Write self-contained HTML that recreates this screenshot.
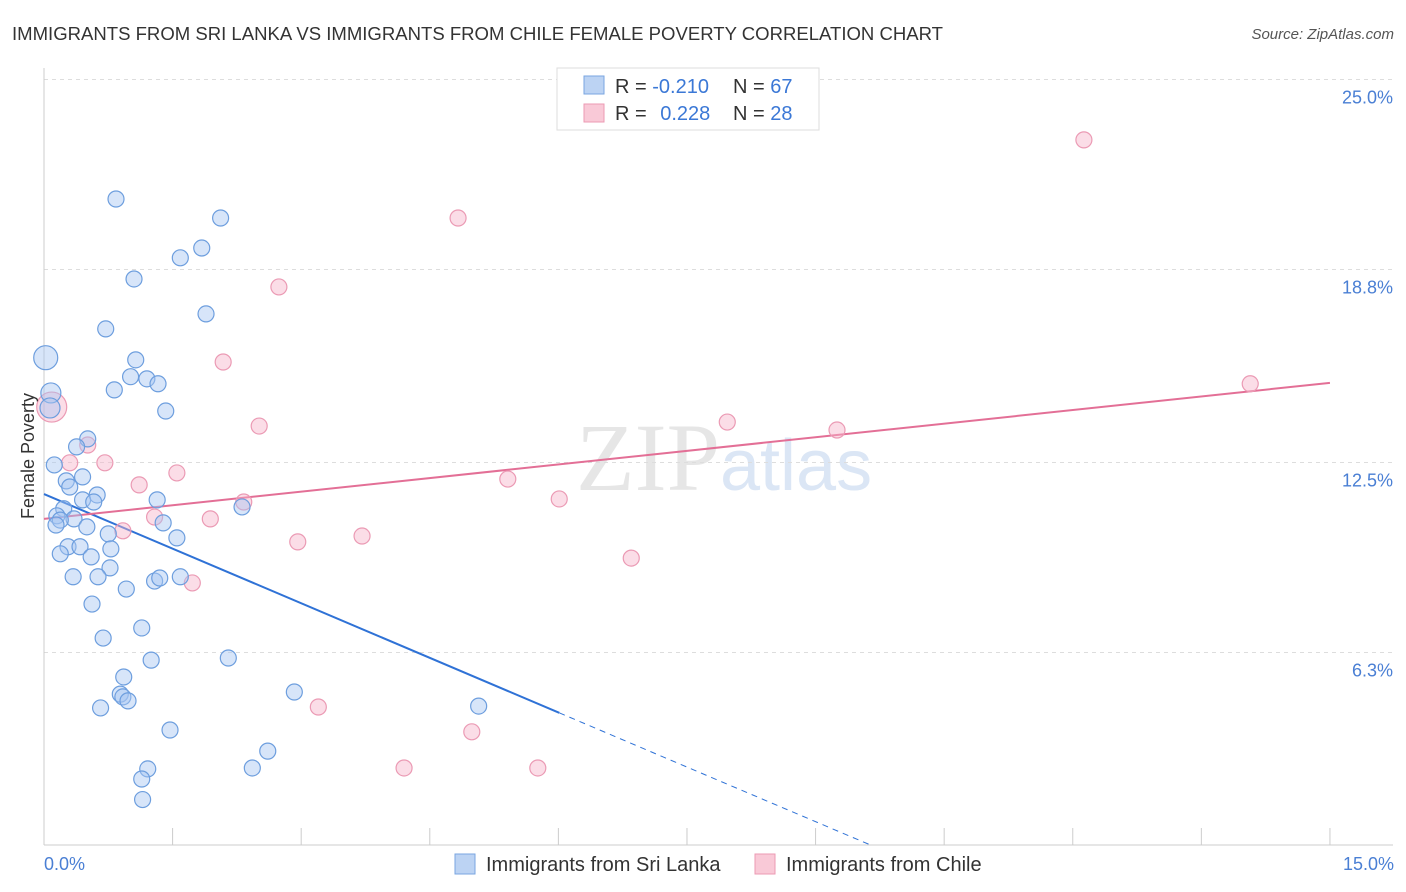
<!DOCTYPE html>
<html><head><meta charset="utf-8"><style>
body{margin:0;background:#fff;font-family:"Liberation Sans",sans-serif;}
svg{display:block}
</style></head><body>
<svg id="chart" width="1406" height="892">
<text x="12" y="40" font-size="18" fill="#333" textLength="931" lengthAdjust="spacingAndGlyphs">IMMIGRANTS FROM SRI LANKA VS IMMIGRANTS FROM CHILE FEMALE POVERTY CORRELATION CHART</text>
<text x="1394" y="39" font-size="15" fill="#555" text-anchor="end" font-style="italic">Source: ZipAtlas.com</text>
<text x="720" y="490" font-size="96" fill="#e6e6e6" text-anchor="end" font-family="Liberation Serif">ZIP</text>
<text x="720" y="490" font-size="72" fill="#dbe6f5">atlas</text>
<g id="grid"></g><g id="axes"></g><g id="lines"></g><g id="pts"></g>
<text x="34" y="456" font-size="18" fill="#333" text-anchor="middle" transform="rotate(-90 34 456)">Female Poverty</text>
<text x="44" y="870" font-size="18" fill="#4a7fd4">0.0%</text>
<text x="1394" y="870" font-size="18" fill="#4a7fd4" text-anchor="end">15.0%</text>
<g>
<rect x="557" y="68" width="262" height="62" fill="#fff" stroke="#ddd"/>
<rect x="584" y="76" width="20" height="18" fill="#bcd3f3" stroke="#7aa6e0"/>
<rect x="584" y="104" width="20" height="18" fill="#f9c9d7" stroke="#ec9ab3"/>
<text x="615" y="93" font-size="20" fill="#333">R = <tspan fill="#3b78d6">-0.210</tspan></text>
<text x="733" y="93" font-size="20" fill="#333">N = <tspan fill="#3b78d6">67</tspan></text>
<text x="615" y="120" font-size="20" fill="#333">R = <tspan fill="#3b78d6" dx="8">0.228</tspan></text>
<text x="733" y="120" font-size="20" fill="#333">N = <tspan fill="#3b78d6">28</tspan></text>
</g>
<g>
<rect x="455" y="854" width="20" height="20" fill="#bcd3f3" stroke="#7aa6e0"/>
<text x="486" y="871" font-size="20" fill="#333">Immigrants from Sri Lanka</text>
<rect x="755" y="854" width="20" height="20" fill="#f9c9d7" stroke="#ec9ab3"/>
<text x="786" y="871" font-size="20" fill="#333">Immigrants from Chile</text>
</g>
</svg>
<script>
const yTicks=[25,18.8,12.5,6.3];
const yTickLabels=["25.0%","18.8%","12.5%","6.3%"];
const xTicks=[0,1.5,3,4.5,6,7.5,9,10.5,12,13.5,15];
const blueX=[0.84,2.06,1.84,1.59,1.05,1.89,0.72,0.02,1.07,1.01,1.20,1.33,0.82,0.08,0.07,1.42,0.51,0.38,0.12,0.45,0.26,0.30,0.62,0.45,0.58,1.32,2.31,0.23,0.15,0.35,0.19,0.14,0.50,1.39,0.75,1.55,0.28,0.42,0.78,0.55,0.19,0.77,0.34,0.63,1.29,1.35,1.59,0.96,0.56,1.14,0.69,1.25,2.15,0.93,0.89,2.92,0.92,0.98,0.66,5.07,1.47,2.61,1.21,1.14,2.43,1.15];
const blueY=[21.10,20.48,19.50,19.18,18.49,17.35,16.86,15.92,15.85,15.30,15.23,15.07,14.87,14.77,14.28,14.18,13.27,13.01,12.42,12.03,11.90,11.70,11.44,11.28,11.21,11.28,11.05,10.99,10.76,10.66,10.62,10.46,10.40,10.53,10.17,10.04,9.75,9.75,9.68,9.42,9.52,9.06,8.77,8.77,8.63,8.73,8.77,8.37,7.88,7.10,6.77,6.05,6.12,5.50,4.94,5.01,4.85,4.72,4.49,4.55,3.77,3.08,2.50,2.17,2.53,1.50];
const blueR=[8,8,8,8,8,8,8,12,8,8,8,8,8,10,10,8,8,8,8,8,8,8,8,8,8,8,8,8,8,8,8,8,8,8,8,8,8,8,8,8,8,8,8,8,8,8,8,8,8,8,8,8,8,8,8,8,8,8,8,8,8,8,8,8,8,8];
const pinkX=[12.13,4.83,2.74,2.09,14.07,0.09,7.97,2.51,9.25,0.30,0.51,0.71,1.55,1.11,5.41,2.33,6.01,1.29,1.94,0.92,2.96,3.71,6.85,1.73,3.20,4.99,4.20,5.76];
const pinkY=[23.03,20.48,18.23,15.78,15.07,14.31,13.82,13.69,13.56,12.49,13.07,12.49,12.16,11.77,11.96,11.21,11.31,10.72,10.66,10.27,9.91,10.10,9.38,8.57,4.52,3.71,2.53,2.53];
const pinkR=[8,8,8,8,8,15,8,8,8,8,8,8,8,8,8,8,8,8,8,8,8,8,8,8,8,8,8,8];
const blueFit=[11.47,-1.188];
const pinkFit=[10.66,0.296];
const X=v=>44+v*85.73, Y=v=>845.5-v*30.64;
const NS="http://www.w3.org/2000/svg";
function mk(p,t,a){const e=document.createElementNS(NS,t);for(const k in a)e.setAttribute(k,a[k]);document.getElementById(p).appendChild(e);return e;}
yTicks.forEach((t,i)=>{
 const g=mk('grid','line',{x1:44,x2:1393,y1:Y(t),y2:Y(t),stroke:'#ddd','stroke-dasharray':'4 4'});
 
 
 const l=mk('grid','text',{x:1393,y:Y(t)+24,'font-size':18,fill:'#4a7fd4','text-anchor':'end'});
 l.textContent=yTickLabels[i];
 
 
});
const ax=mk('axes','line',{x1:44,x2:44,y1:68,y2:845,stroke:'#ccc'});


const bx=mk('axes','line',{x1:44,x2:1393,y1:845,y2:845,stroke:'#ccc'});


xTicks.forEach(t=>{const e=mk('axes','line',{x1:X(t),x2:X(t),y1:828,y2:845,stroke:'#ccc'});
 
 });
const bMax=6.01, bEnd=(0-blueFit[0])/blueFit[1];
let e=mk('lines','line',{x1:X(0),y1:Y(blueFit[0]),x2:X(bMax),y2:Y(blueFit[0]+blueFit[1]*bMax),stroke:'#2f72d6','stroke-width':2});


e=mk('lines','line',{x1:X(bMax),y1:Y(blueFit[0]+blueFit[1]*bMax),x2:X(bEnd),y2:Y(0),stroke:'#2f72d6','stroke-width':1,'stroke-dasharray':'6 5'});


e=mk('lines','line',{x1:X(0),y1:Y(pinkFit[0]),x2:X(15),y2:Y(pinkFit[0]+pinkFit[1]*15),stroke:'#e36f96','stroke-width':2});


pinkX.forEach((v,i)=>{const c=mk('pts','circle',{cx:X(v),cy:Y(pinkY[i]),r:pinkR[i],fill:'rgba(246,180,202,0.45)',stroke:'#eb9ab4','stroke-width':1.2});
 
 });
blueX.forEach((v,i)=>{const c=mk('pts','circle',{cx:X(v),cy:Y(blueY[i]),r:blueR[i],fill:'rgba(166,198,242,0.45)',stroke:'#6d9ede','stroke-width':1.2});
 
 });
</script>
</body></html>
